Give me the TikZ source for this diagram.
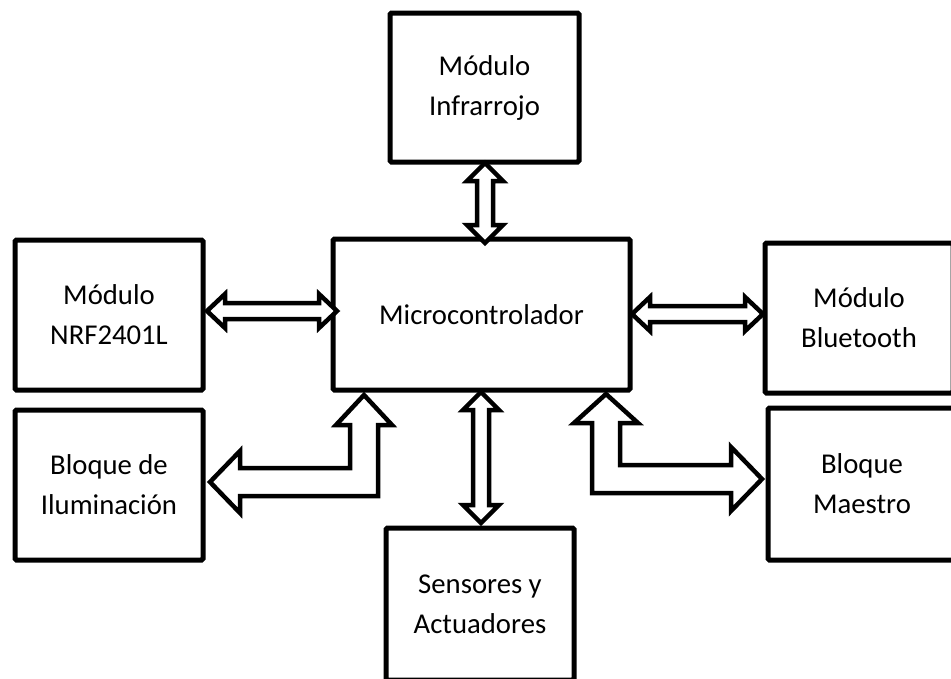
\documentclass[tikz,border=0pt]{standalone}
\usepackage{fontspec}
\setmainfont{Carlito}
\newcommand\boxfont{\fontsize{28.7}{40}\selectfont}
\begin{document}
\begin{tikzpicture}[x=1pt,y=-1pt,
  box/.style={draw, line width=5pt, rectangle, inner sep=0pt, align=center, font=\boxfont, rounded corners=1.5pt},
  blk/.style={draw, line width=4.5pt, line join=miter, miter limit=3, fill=white}]
\useasboundingbox (0,0) rectangle (951,678);
\clip (0,0) rectangle (951,678);
\node[box, minimum width=189pt, minimum height=149pt] (infra) at (484.5,87.5) {Módulo\\Infrarrojo};
\node[box, minimum width=297pt, minimum height=151pt] (micro) at (481.5,314.5) {Microcontrolador};
\node[box, minimum width=188pt, minimum height=150pt] (nrf) at (109,315) {Módulo\\NRF2401L};
\node[box, minimum width=188pt, minimum height=150pt] (ilum) at (109,485) {Bloque de\\Iluminación};
\node[box, minimum width=188pt, minimum height=150pt] (blue) at (859,318) {Módulo\\Bluetooth};
\node[box, minimum width=188pt, minimum height=152pt] (maes) at (862,484) {Bloque\\Maestro};
\node[box, minimum width=188pt, minimum height=152pt] (sens) at (480,604) {Sensores y\\Actuadores};
% NRF <-> Micro
\draw[blk] (207,311) -- (225,294) -- (225,303) -- (319,303) -- (319,294) -- (337,311)
  -- (319,328) -- (319,319) -- (225,319) -- (225,328) -- cycle;
% Micro <-> Bluetooth
\draw[blk] (632,314) -- (650,297) -- (650,306) -- (745,306) -- (745,297) -- (763,314)
  -- (745,331) -- (745,322) -- (650,322) -- (650,331) -- cycle;
% Infrarrojo <-> Micro
\draw[blk] (485,163) -- (503,181) -- (493,181) -- (493,225) -- (503,225) -- (485,243)
  -- (467,225) -- (477,225) -- (477,181) -- (467,181) -- cycle;
% Micro <-> Sensores
\draw[blk] (481,392) -- (499,410) -- (489,410) -- (489,505) -- (499,505) -- (481,523)
  -- (463,505) -- (473,505) -- (473,410) -- (463,410) -- cycle;
% Micro <-> Iluminacion (elbow)
\draw[blk] (364,395) -- (392,425) -- (378,425) -- (378,496) -- (240,496) -- (240,513)
  -- (210,482) -- (240,451) -- (240,468) -- (350,468) -- (350,425) -- (336,425) -- cycle;
% Micro <-> Maestro (elbow)
\draw[blk] (606,394) -- (638,423) -- (620,423) -- (620,465) -- (731,465) -- (731,447)
  -- (762,479) -- (731,511) -- (731,493) -- (592,493) -- (592,423) -- (574,423) -- cycle;
\end{tikzpicture}
\end{document}
